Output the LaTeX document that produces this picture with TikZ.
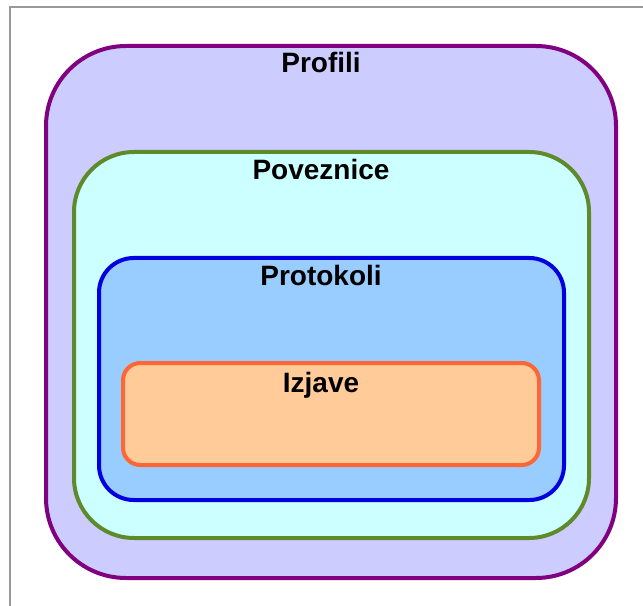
\documentclass[tikz,border=0pt]{standalone}
\usepackage{fontspec}
\setmainfont{Liberation Sans}
\usetikzlibrary{positioning}

\definecolor{profilifill}{HTML}{CCCCFF}
\definecolor{profilidraw}{HTML}{800080}
\definecolor{poveznicefill}{HTML}{CCFFFF}
\definecolor{poveznicedraw}{HTML}{5E8A2A}
\definecolor{protokolifill}{HTML}{99CCFF}
\definecolor{protokolidraw}{HTML}{0000E0}
\definecolor{izjavefill}{HTML}{FFCC99}
\definecolor{izjavedraw}{HTML}{FF6633}

\begin{document}
\begin{tikzpicture}[x=0.75pt,y=-0.75pt,
        layer/.style={line width=3pt},
        layer label/.style={font=\fontsize{21}{25}\selectfont\bfseries,inner sep=0pt,anchor=north},
        frame/.style={draw=black!40,line width=1.5pt}]
    \useasboundingbox (0,0) rectangle (643,606);

    \draw[frame] (10,606) -- (10,7) -- (643,7);

    \draw[layer,draw=profilidraw,fill=profilifill,rounded corners=60pt] (46,46) rectangle (616,578);
    \draw[layer,draw=poveznicedraw,fill=poveznicefill,rounded corners=45pt] (74,152) rectangle (589,538);
    \draw[layer,draw=protokolidraw,fill=protokolifill,rounded corners=26pt] (99,258) rectangle (564,500);
    \draw[layer,draw=izjavedraw,fill=izjavefill,rounded corners=13pt] (123,363) rectangle (539,465);

    \node[layer label] (profili) at (321,52) {Profili};
    \node[layer label] (poveznice) at (321,159) {Poveznice};
    \node[layer label] (protokoli) at (321,265) {Protokoli};
    \node[layer label] (izjave) at (321,372) {Izjave};
\end{tikzpicture}
\end{document}
